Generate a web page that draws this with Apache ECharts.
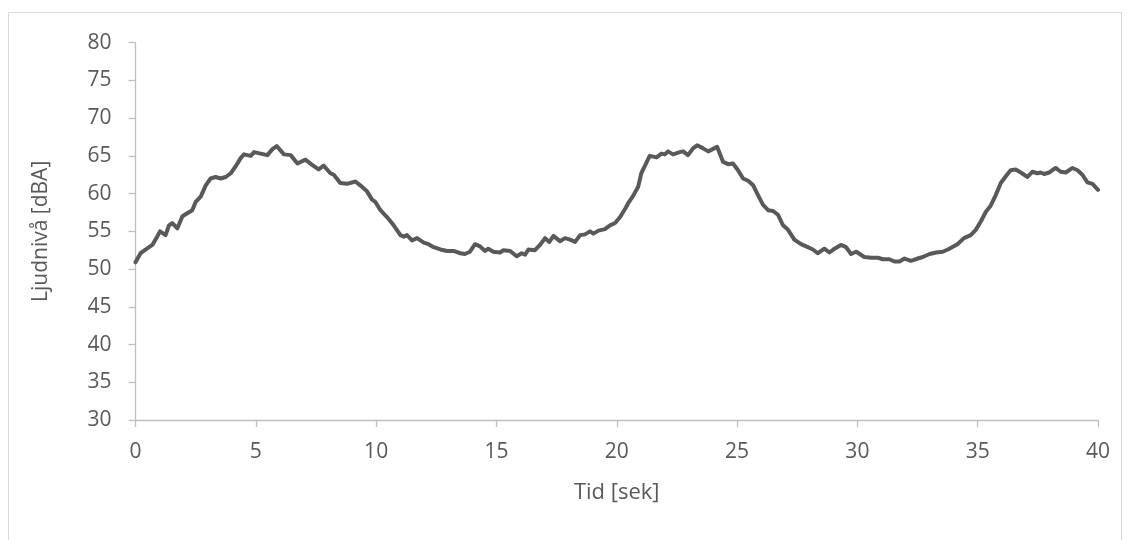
<!DOCTYPE html>
<html>
<head>
<meta charset="utf-8">
<script src="https://cdn.jsdelivr.net/npm/echarts@6/dist/echarts.min.js"></script>
<style>
  html, body { margin: 0; padding: 0; background: #ffffff; }
  #frame { position: absolute; left: 8px; top: 12px; width: 1114px; height: 600px; border: 1px solid #d9d9d9; box-sizing: border-box; }
  #chart { position: absolute; left: 0; top: 0; width: 1131px; height: 540px; }
</style>
</head>
<body>
<div id="frame"></div>
<div id="chart"></div>
<script>
// Time in seconds
const timeSec = [
  0, 0.21, 0.49, 0.7, 0.9, 1.02, 1.25, 1.39, 1.53, 1.74, 1.95, 2.15, 2.36, 2.5, 2.71, 2.92,
  3.12, 3.33, 3.54, 3.75, 3.96, 4.16, 4.37, 4.51, 4.79, 4.93, 5.2, 5.48, 5.69, 5.87, 6.17, 6.45,
  6.73, 7.06, 7.34, 7.61, 7.82, 8.1, 8.24, 8.51, 8.79, 9.14, 9.34, 9.62, 9.83, 9.97, 10.18, 10.45,
  10.73, 11.01, 11.15, 11.28, 11.49, 11.7, 11.98, 12.18, 12.39, 12.67, 12.95, 13.22, 13.5, 13.69,
  13.9, 14.11, 14.32, 14.53, 14.66, 14.87, 15.15, 15.29, 15.57, 15.84, 16.05, 16.19, 16.33, 16.6,
  16.81, 17.02, 17.2, 17.37, 17.64, 17.85, 18.06, 18.27, 18.48, 18.68, 18.89, 19.03, 19.24, 19.51,
  19.72, 19.93, 20.14, 20.35, 20.47, 20.68, 20.89, 21.02, 21.16, 21.37, 21.65, 21.86, 22.0, 22.13,
  22.34, 22.62, 22.76, 22.96, 23.17, 23.34, 23.59, 23.8, 23.93, 24.17, 24.42, 24.63, 24.83, 25.04,
  25.25, 25.46, 25.67, 25.87, 26.08, 26.29, 26.5, 26.7, 26.91, 27.12, 27.38, 27.66, 27.94, 28.15,
  28.35, 28.63, 28.84, 29.05, 29.32, 29.53, 29.74, 29.95, 30.29, 30.57, 30.85, 31.06, 31.33, 31.54,
  31.75, 31.96, 32.23, 32.51, 32.72, 33.0, 33.27, 33.55, 33.76, 34.16, 34.43, 34.71, 34.92, 35.13,
  35.34, 35.54, 35.75, 35.96, 36.17, 36.37, 36.58, 36.79, 37.07, 37.27, 37.48, 37.62, 37.76, 37.97,
  38.24, 38.45, 38.66, 38.94, 39.15, 39.35, 39.56, 39.77, 40.0
];
// Sound level in dBA
const levelDbA = [
  50.9, 52.1, 52.75, 53.2, 54.3, 55.0, 54.5, 55.8, 56.1, 55.4, 57.0, 57.4, 57.8, 58.9, 59.6, 61.1,
  62.0, 62.2, 62.0, 62.2, 62.7, 63.6, 64.7, 65.2, 65.0, 65.5, 65.3, 65.1, 65.9, 66.3, 65.2, 65.1,
  64.0, 64.5, 63.8, 63.2, 63.7, 62.7, 62.5, 61.4, 61.3, 61.6, 61.1, 60.3, 59.2, 58.9, 57.8, 56.9,
  55.8, 54.5, 54.3, 54.5, 53.8, 54.1, 53.5, 53.3, 52.9, 52.6, 52.4, 52.4, 52.1, 52.0,
  52.3, 53.3, 53.0, 52.4, 52.7, 52.3, 52.2, 52.5, 52.4, 51.7, 52.1, 51.9, 52.6, 52.5,
  53.2, 54.1, 53.6, 54.4, 53.7, 54.1, 53.9, 53.6, 54.5, 54.6, 55.0, 54.7, 55.1, 55.3,
  55.8, 56.1, 56.9, 58.0, 58.7, 59.7, 60.9, 62.7, 63.6, 65.0, 64.8, 65.3, 65.2, 65.6,
  65.2, 65.5, 65.6, 65.1, 66.0, 66.4, 66.0, 65.6, 65.8, 66.2, 64.2, 63.9, 64.0, 63.1,
  62.0, 61.7, 61.1, 59.8, 58.5, 57.8, 57.7, 57.2, 55.8, 55.2, 53.9, 53.3, 52.9, 52.6,
  52.1, 52.7, 52.2, 52.7, 53.2, 52.9, 52.0, 52.3, 51.6, 51.5, 51.5, 51.3, 51.3, 51.0,
  51.0, 51.4, 51.1, 51.4, 51.6, 52.0, 52.2, 52.3, 52.6, 53.3, 54.1, 54.5, 55.2, 56.3,
  57.6, 58.4, 59.8, 61.4, 62.3, 63.1, 63.2, 62.8, 62.2, 62.9, 62.7, 62.8, 62.6, 62.8,
  63.4, 62.9, 62.8, 63.4, 63.1, 62.5, 61.5, 61.3, 60.5
];
const xTicks = { min: 0, max: 40, interval: 5 };
const yTicks = { min: 30, max: 80, interval: 5 };
const xTitle = 'Tid [sek]';
const yTitle = 'Ljudnivå [dBA]';

const points = timeSec.map((t, i) => [t, levelDbA[i]]);
const font = '"Open Sans", "DejaVu Sans", sans-serif';
const chart = echarts.init(document.getElementById('chart'), null, { renderer: 'canvas' });
chart.setOption({
  animation: false,
  backgroundColor: 'transparent',
  grid: { left: 135.5, right: 33, top: 42.7, bottom: 120, containLabel: false },
  xAxis: {
    type: 'value', min: xTicks.min, max: xTicks.max, interval: xTicks.interval,
    name: xTitle, nameLocation: 'middle', nameGap: 62,
    nameTextStyle: { color: '#595959', fontSize: 22, fontFamily: font },
    axisLine: { show: true, lineStyle: { color: '#bfbfbf', width: 1.3 } },
    axisTick: { show: true, inside: false, length: 7, lineStyle: { color: '#bfbfbf', width: 1.3 } },
    axisLabel: { color: '#595959', fontSize: 21, fontFamily: font, margin: 22 },
    splitLine: { show: false }
  },
  yAxis: {
    type: 'value', min: yTicks.min, max: yTicks.max, interval: yTicks.interval,
    name: yTitle, nameLocation: 'middle', nameGap: 84, nameRotate: 90,
    nameTextStyle: { color: '#595959', fontSize: 21, fontFamily: font },
    axisLine: { show: true, lineStyle: { color: '#bfbfbf', width: 1.3 } },
    axisTick: { show: true, inside: false, length: 7, lineStyle: { color: '#bfbfbf', width: 1.3 } },
    axisLabel: { color: '#595959', fontSize: 21, fontFamily: font, margin: 24 },
    splitLine: { show: false }
  },
  series: [{
    type: 'line', data: points, showSymbol: false, smooth: false,
    lineStyle: { color: '#595959', width: 4, join: 'round', cap: 'round' }
  }]
});
</script>
</body>
</html>
